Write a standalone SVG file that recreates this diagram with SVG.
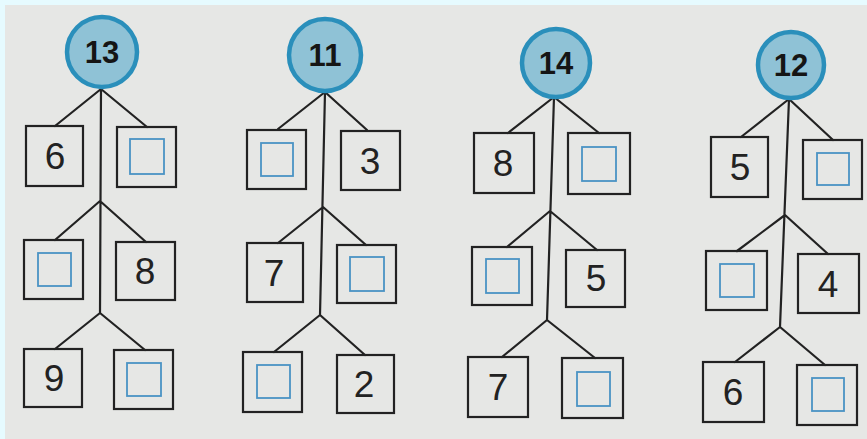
<svg xmlns="http://www.w3.org/2000/svg" width="867" height="439" viewBox="0 0 867 439">
<style>
.bg{fill:#e6e7e5}
.ln{stroke:#222;stroke-width:2.2;fill:none;stroke-linecap:round}
.box{fill:none;stroke:#222;stroke-width:2.2}
.in{fill:none;stroke:#4a93c4;stroke-width:1.8}
.cir{fill:#8fc2d6;stroke:#2a8fbb;stroke-width:4.5}
.num{font-family:"Liberation Sans Narrow","Liberation Sans",Arial,sans-serif;font-size:37px;fill:#222;text-anchor:middle}
.top{font-family:"Liberation Sans",Arial,sans-serif;font-size:31px;font-weight:bold;fill:#151515;text-anchor:middle}
</style>
<rect width="867" height="439" fill="#e6fbff"/>
<rect x="5" y="5" width="862" height="434" class="bg"/>

<g id="connectors">
<path class="ln" d="M101 89 L100 313 M101 89 L55 126 M101 89 L147 127 M100 201 L55 240 M100 201 L146 242 M100 313 L55 349 M100 313 L145 350"/>
<path class="ln" d="M325 92 L320 315 M325 92 L278 129 M325 92 L367 130 M323 207 L278 243 M323 207 L366 245 M320 315 L274 352 M320 315 L365 355"/>
<path class="ln" d="M554 97 L547 320 M554 97 L508 133 M554 97 L599 133 M550 211 L507 247 M550 211 L597 250 M547 320 L502 357 M547 320 L595 358"/>
<path class="ln" d="M789 99 L780 327 M789 99 L741 137 M789 99 L833 140 M785 215 L737 251 M785 215 L828 254 M780 327 L735 362 M780 327 L825 365"/>
</g>

<g id="c13"><circle class="cir" cx="102" cy="52" r="35"/><text class="top" x="102" y="63">13</text></g>
<g id="t1a"><rect class="box" x="26" y="126" width="57" height="60"/><text class="num" x="55" y="169">6</text></g>
<g id="t1b"><rect class="box" x="117" y="127" width="59" height="60"/><rect class="in" x="130" y="139" width="34" height="35"/></g>
<g id="t1c"><rect class="box" x="24" y="240" width="59" height="59"/><rect class="in" x="38" y="253" width="33" height="33"/></g>
<g id="t1d"><rect class="box" x="116" y="242" width="59" height="58"/><text class="num" x="145" y="284">8</text></g>
<g id="t1e"><rect class="box" x="24" y="349" width="58" height="58"/><text class="num" x="54" y="391">9</text></g>
<g id="t1f"><rect class="box" x="114" y="350" width="59" height="59"/><rect class="in" x="127" y="363" width="34" height="33"/></g>

<g id="c11"><circle class="cir" cx="325" cy="55" r="36"/><text class="top" x="325" y="66">11</text></g>
<g id="t2a"><rect class="box" x="247" y="130" width="59" height="59"/><rect class="in" x="261" y="143" width="32" height="33"/></g>
<g id="t2b"><rect class="box" x="341" y="131" width="59" height="59"/><text class="num" x="370" y="174">3</text></g>
<g id="t2c"><rect class="box" x="247" y="243" width="56" height="59"/><text class="num" x="274" y="286">7</text></g>
<g id="t2d"><rect class="box" x="337" y="245" width="59" height="58"/><rect class="in" x="350" y="257" width="34" height="34"/></g>
<g id="t2e"><rect class="box" x="243" y="352" width="59" height="60"/><rect class="in" x="257" y="365" width="33" height="33"/></g>
<g id="t2f"><rect class="box" x="337" y="355" width="57" height="58"/><text class="num" x="364" y="397">2</text></g>

<g id="c14"><circle class="cir" cx="556" cy="63" r="34"/><text class="top" x="556" y="74">14</text></g>
<g id="t3a"><rect class="box" x="474" y="133" width="60" height="60"/><text class="num" x="503" y="176">8</text></g>
<g id="t3b"><rect class="box" x="568" y="133" width="62" height="61"/><rect class="in" x="582" y="147" width="34" height="34"/></g>
<g id="t3c"><rect class="box" x="472" y="247" width="60" height="58"/><rect class="in" x="486" y="259" width="33" height="34"/></g>
<g id="t3d"><rect class="box" x="566" y="250" width="59" height="57"/><text class="num" x="596" y="291">5</text></g>
<g id="t3e"><rect class="box" x="468" y="357" width="60" height="60"/><text class="num" x="498" y="400">7</text></g>
<g id="t3f"><rect class="box" x="562" y="358" width="61" height="60"/><rect class="in" x="577" y="372" width="33" height="34"/></g>

<g id="c12"><circle class="cir" cx="791" cy="65" r="33"/><text class="top" x="791" y="76">12</text></g>
<g id="t4a"><rect class="box" x="711" y="137" width="57" height="60"/><text class="num" x="740" y="180">5</text></g>
<g id="t4b"><rect class="box" x="803" y="140" width="59" height="59"/><rect class="in" x="817" y="153" width="32" height="32"/></g>
<g id="t4c"><rect class="box" x="706" y="251" width="61" height="59"/><rect class="in" x="720" y="264" width="34" height="33"/></g>
<g id="t4d"><rect class="box" x="798" y="254" width="61" height="59"/><text class="num" x="828" y="297">4</text></g>
<g id="t4e"><rect class="box" x="703" y="362" width="61" height="60"/><text class="num" x="733" y="405">6</text></g>
<g id="t4f"><rect class="box" x="797" y="365" width="60" height="60"/><rect class="in" x="812" y="378" width="32" height="33"/></g>
</svg>
